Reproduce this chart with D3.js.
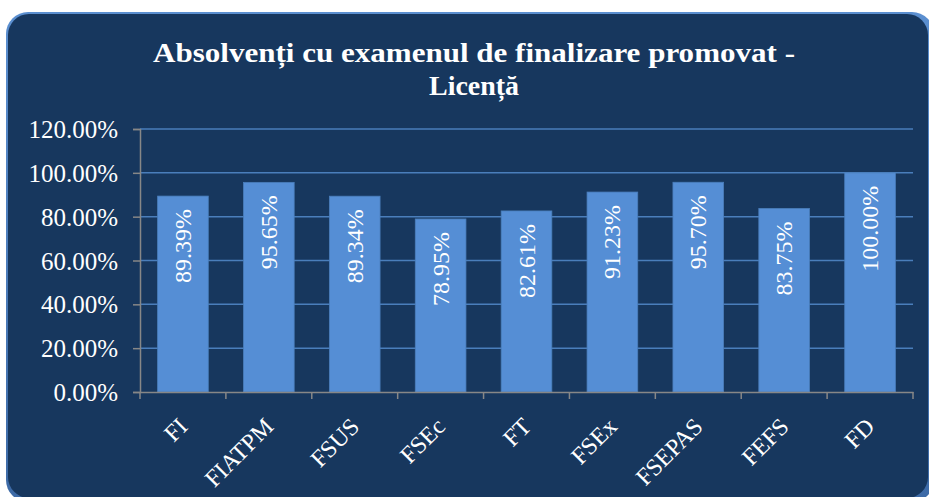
<!DOCTYPE html>
<html>
<head>
<meta charset="utf-8">
<script src="https://cdn.jsdelivr.net/npm/d3@7"></script>
</head>
<body style="margin:0;padding:0;background:#ffffff">
<svg id="chart" width="929" height="497" style="display:block"></svg>
<script>
const categories = ["FI", "FIATPM", "FSUS", "FSEc", "FT", "FSEx", "FSEPAS", "FEFS", "FD"];
const values = [89.39, 95.65, 89.34, 78.95, 82.61, 91.23, 95.70, 83.75, 100.00];
const yTicks = [0, 20, 40, 60, 80, 100, 120];
const titleLines = ["Absolvenți cu examenul de finalizare promovat -", "Licență"];

const FONT = "Liberation Serif";
const svg = d3.select("#chart");

// panel
const defs = svg.append("defs");
const grad = defs.append("linearGradient").attr("id", "edge").attr("x1", 0).attr("y1", 0).attr("x2", 0).attr("y2", 1);
grad.append("stop").attr("offset", "0%").attr("stop-color", "#5b8fd0");
grad.append("stop").attr("offset", "100%").attr("stop-color", "#3d6aa6");
svg.append("rect").attr("x", 6).attr("y", 12).attr("width", 928).attr("height", 490)
  .attr("rx", 22).attr("ry", 22).attr("fill", "url(#edge)");
svg.append("rect").attr("x", 8).attr("y", 14).attr("width", 920).attr("height", 484)
  .attr("rx", 21).attr("ry", 21).attr("fill", "#17375e");

// title
const tW = [642, 90];
svg.append("g").selectAll("text").data(titleLines).join("text")
  .style("font-family", FONT).style("font-weight", "bold").style("font-size", "27px")
  .attr("fill", "#ffffff")
  .attr("text-anchor", "middle")
  .attr("x", 474).attr("y", (d, i) => 62 + i * 33)
  .attr("textLength", (d, i) => tW[i]).attr("lengthAdjust", "spacingAndGlyphs")
  .text(d => d);

const margin = { left: 140, right: 913, top: 129, bottom: 392 };
const x = d3.scaleBand().domain(categories).range([margin.left, margin.right]).paddingInner(0.41).paddingOuter(0.205);
const y = d3.scaleLinear().domain([0, 120]).range([margin.bottom, margin.top]);

// gridlines
svg.append("g").selectAll("line").data(yTicks.filter(t => t > 0)).join("line")
  .attr("x1", margin.left).attr("x2", margin.right)
  .attr("y1", d => y(d)).attr("y2", d => y(d))
  .attr("stroke", "#4a7ebb").attr("stroke-width", 1.5);

// bars
svg.append("g").selectAll("rect").data(values).join("rect")
  .attr("x", (d, i) => x(categories[i]))
  .attr("y", d => y(d))
  .attr("width", x.bandwidth())
  .attr("height", d => y(0) - y(d))
  .attr("fill", "#558ed5")
  .attr("stroke", "#4a7ebb").attr("stroke-width", 0.8);

// bar labels
svg.append("g").selectAll("text").data(values).join("text")
  .style("font-family", FONT).style("font-size", "24px")
  .attr("transform", (d, i) => `translate(${x(categories[i]) + x.bandwidth() / 2 + 8},${y(d) + 13}) rotate(-90)`)
  .attr("text-anchor", "end")
  .attr("fill", "#ffffff")
  .text(d => d.toFixed(2) + "%");

// y axis
const yAxis = svg.append("g").attr("transform", `translate(${margin.left},0)`)
  .call(d3.axisLeft(y).tickValues(yTicks).tickSize(7).tickFormat(d => d.toFixed(2) + "%"));
yAxis.select(".domain").attr("stroke", "#878787").attr("stroke-width", 1.5);
yAxis.selectAll(".tick line").attr("stroke", "#878787").attr("stroke-width", 1.5);
yAxis.selectAll(".tick text")
  .style("font-family", FONT).style("font-size", "25px")
  .attr("fill", "#ffffff").attr("x", -22).attr("dy", "0.34em");

// x axis
const xAxis = svg.append("g").attr("transform", `translate(0,${margin.bottom})`)
  .call(d3.axisBottom(x).tickSize(0).tickSizeOuter(0));
xAxis.select(".domain").attr("stroke", "#878787").attr("stroke-width", 1.5);
xAxis.selectAll(".tick text").remove();
const step = x.step();
const bounds = d3.range(categories.length + 1).map(i => margin.left + i * step);
xAxis.selectAll("line.sep").data(bounds).join("line").attr("class", "sep")
  .attr("x1", d => d).attr("x2", d => d).attr("y1", 0).attr("y2", 7)
  .attr("stroke", "#878787").attr("stroke-width", 1.5);

svg.append("g").selectAll("text").data(categories).join("text")
  .style("font-family", FONT).style("font-size", "24px")
  .attr("transform", d => `translate(${x(d) + x.bandwidth() / 2 + 6},${margin.bottom + 36}) rotate(-45)`)
  .attr("text-anchor", "end")
  .attr("fill", "#ffffff")
  .text(d => d);
</script>
</body>
</html>
